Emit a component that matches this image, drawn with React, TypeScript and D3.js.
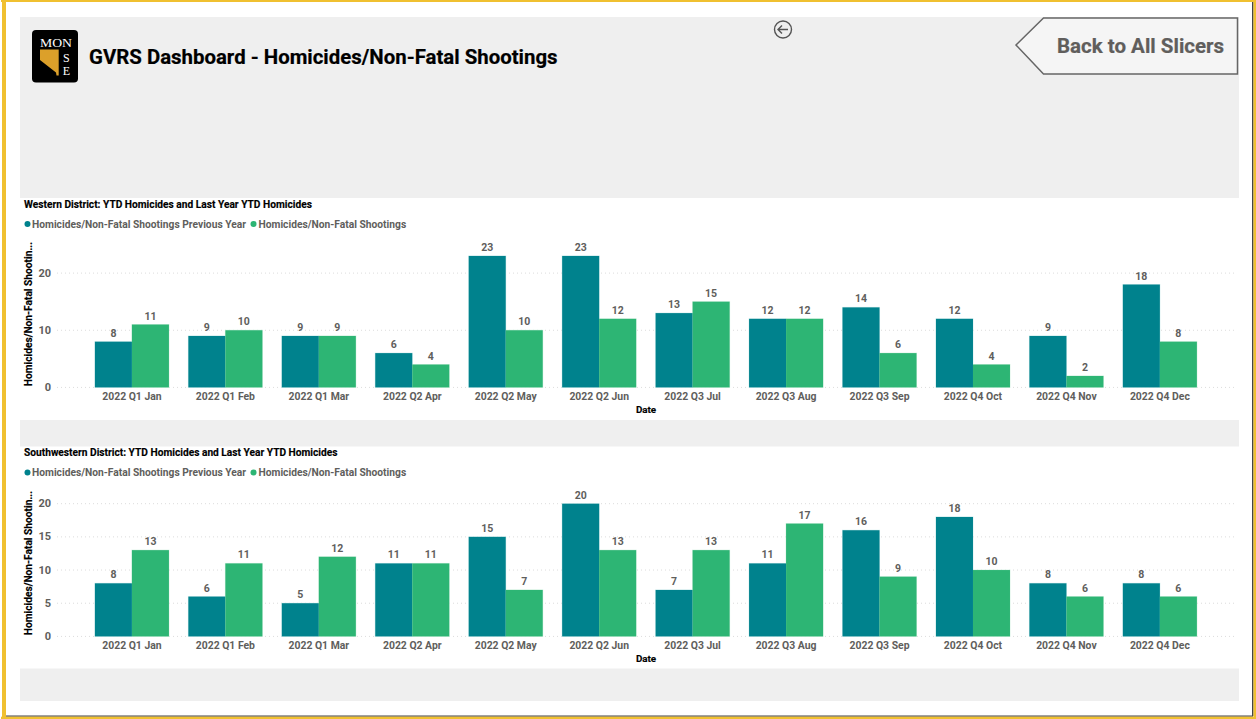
import React from "react";
import * as d3 from "d3";

const categories = ["2022 Q1 Jan","2022 Q1 Feb","2022 Q1 Mar","2022 Q2 Apr","2022 Q2 May","2022 Q2 Jun","2022 Q3 Jul","2022 Q3 Aug","2022 Q3 Sep","2022 Q4 Oct","2022 Q4 Nov","2022 Q4 Dec"];
const westernPrevious = [8,9,9,6,23,23,13,12,14,12,9,18];
const westernCurrent = [11,10,9,4,10,12,15,12,6,4,2,8];
const southwesternPrevious = [8,6,5,11,15,20,7,11,16,18,8,8];
const southwesternCurrent = [13,11,12,11,7,13,13,17,9,10,6,6];
const westernTicks = [0,10,20];
const southwesternTicks = [0,5,10,15,20];
const seriesNames = ["Homicides/Non-Fatal Shootings Previous Year","Homicides/Non-Fatal Shootings"];

const FONT = "Roboto, sans-serif";
const TEAL = "#00828d";
const GREEN = "#2db574";
const GREY = "#605e5c";

const x0 = d3.scaleBand<string>().domain(categories).range([85.2,1206.6]).paddingInner(0.208).paddingOuter(0.104);
const x1 = d3.scaleBand<string>().domain(["prev","cur"]).range([0,x0.bandwidth()]);

function Chart({title,top,baseline,yMaxPx,yMax,ticks,prev,cur,yTitleCenter}:{title:string,top:number,baseline:number,yMaxPx:number,yMax:number,ticks:number[],prev:number[],cur:number[],yTitleCenter:number}){
  const y = d3.scaleLinear().domain([0,yMax]).range([baseline,yMaxPx]);
  const text = {fontFamily:FONT,fontWeight:700,fontSize:10.4} as const;
  const w = x1.bandwidth();
  const halo = (bx:number,v:number,c:string)=><rect x={bx-0.5} y={y(v)-0.5} width={w+1} height={baseline-y(v)+1} fill={c}/>;
  return <g>
    <rect x={20} y={top} width={1219} height={222} fill="#fff"/>
    <text x={24} y={top+9.7} {...text} fontSize={10.2} fill="#000" stroke="#000" strokeWidth={0.15}>{title}</text>
    <circle cx={27.5} cy={top+26} r={3} fill={TEAL}/>
    <text x={32} y={top+29.6} {...text} fontSize={10.25} fill={GREY}>{seriesNames[0]}</text>
    <circle cx={253.5} cy={top+26} r={3} fill={GREEN}/>
    <text x={258.5} y={top+29.6} {...text} fontSize={10.25} fill={GREY}>{seriesNames[1]}</text>
    {ticks.map(t=><g key={t}>
      <line x1={57} x2={1235} y1={y(t)} y2={y(t)} stroke="#dcdcdc" strokeDasharray="1 3"/>
      <text x={51} y={y(t)+3.5} textAnchor="end" {...text} fontSize={11} fill={GREY}>{t}</text>
    </g>)}
    <text transform={`translate(32,${yTitleCenter}) rotate(-90)`} textAnchor="middle" {...text} fontSize={10.2} fill="#000" stroke="#000" strokeWidth={0.15}>Homicides/Non-Fatal Shootin...</text>
    {categories.map((c,i)=>{
      const gx = x0(c)!;
      const px = gx+x1("prev")!;
      const cx = gx+x1("cur")!;
      return <g key={c}>
        {halo(px,prev[i],"#d5eeee")}
        {halo(cx,cur[i],"#d8f2e4")}
        <rect x={px} y={y(prev[i])} width={w} height={baseline-y(prev[i])} fill={TEAL}/>
        <rect x={cx} y={y(cur[i])} width={w} height={baseline-y(cur[i])} fill={GREEN}/>
        <text x={px+w/2} y={y(prev[i])-5} textAnchor="middle" {...text} fontSize={10.5} fill={GREY}>{prev[i]}</text>
        <text x={cx+w/2} y={y(cur[i])-5} textAnchor="middle" {...text} fontSize={10.5} fill={GREY}>{cur[i]}</text>
        <text x={gx+x0.bandwidth()/2} y={baseline+12.5} textAnchor="middle" {...text} fill={GREY}>{c}</text>
      </g>;
    })}
    <text x={646} y={baseline+26} textAnchor="middle" {...text} fontSize={9.8} fill="#000" stroke="#000" strokeWidth={0.15}>Date</text>
  </g>;
}

export default function App(){
  const serif = "'Liberation Serif', serif";
  return <svg width={1256} height={719} style={{position:"absolute",left:0,top:0,display:"block"}}>
    <rect width={1256} height={719} fill="#fff"/>
    <rect x={20} y={17} width={1219} height={684} fill="#efefef"/>
    <rect x={1} y={0} width={1255} height={2} fill="#f0c030"/>
    <rect x={2} y={0} width={4} height={719} fill="#f0c030"/>
    <rect x={1252} y={2} width={1.5} height={714} fill="#444"/>
    <rect x={1253.5} y={0} width={2.5} height={719} fill="#f0c030"/>
    <rect x={6} y={715.5} width={1247} height={1.2} fill="#444"/>
    <rect x={1} y={716.7} width={1255} height={2.3} fill="#f0c030"/>

    {/* logo */}
    <rect x={32} y={30} width={46} height={52.5} rx={4} fill="#000"/>
    <text x={40} y={46.7} fontFamily={serif} fontSize={12} fill="#fff" textLength={32} lengthAdjust="spacingAndGlyphs">MON</text>
    <text x={66.3} y={61.5} fontFamily={serif} fontSize={12} fill="#fff" textAnchor="middle">S</text>
    <text x={66.3} y={75} fontFamily={serif} fontSize={12} fill="#fff" textAnchor="middle">E</text>
    <path d="M40 49.5 H58.7 V75.5 H56.5 L56 72.5 L40 60 Z" fill="#dca02a"/>

    <text x={89} y={64} fontFamily={FONT} fontWeight={700} fontSize={20.4} fill="#000" stroke="#000" strokeWidth={0.2}>GVRS Dashboard - Homicides/Non-Fatal Shootings</text>

    {/* back arrow */}
    <circle cx={783} cy={29.5} r={8.5} fill="none" stroke="#555" strokeWidth={1.4}/>
    <path d="M788 29.5 H778 M782 25.5 L778 29.5 L782 33.5" fill="none" stroke="#555" strokeWidth={1.4}/>

    {/* button */}
    <path d="M1016 45 L1043.5 18 H1237.5 V74 H1043.5 Z" fill="#f5f5f5" stroke="#666" strokeWidth={1.5}/>
    <text x={1057} y={53} fontFamily={FONT} fontWeight={700} fontSize={20.5} fill={GREY} stroke={GREY} strokeWidth={0.2}>Back to All Slicers</text>

    <Chart title="Western District: YTD Homicides and Last Year YTD Homicides" top={198} baseline={387.4} yMaxPx={273.1} yMax={20} ticks={westernTicks} prev={westernPrevious} cur={westernCurrent} yTitleCenter={314}/>
    <Chart title="Southwestern District: YTD Homicides and Last Year YTD Homicides" top={446.5} baseline={636.4} yMaxPx={503.7} yMax={20} ticks={southwesternTicks} prev={southwesternPrevious} cur={southwesternCurrent} yTitleCenter={563}/>
  </svg>;
}
